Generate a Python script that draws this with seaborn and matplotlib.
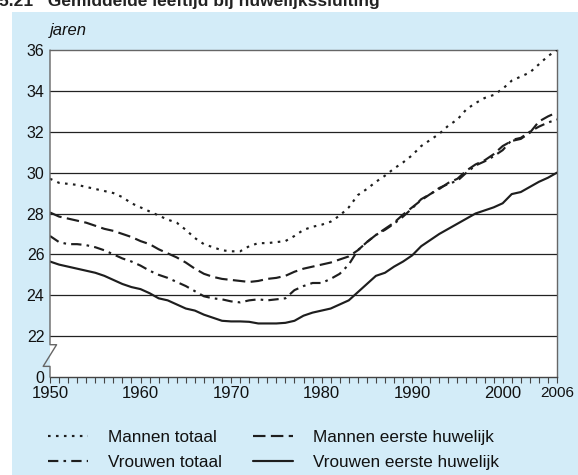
import numpy as np
import pandas as pd
import matplotlib
matplotlib.use("Agg")
import matplotlib.pyplot as plt
from matplotlib.patches import Rectangle
from matplotlib.lines import Line2D
import seaborn as sns

# ---------------- data ----------------
years = list(range(1950, 2007))

mannen_totaal = [29.7, 29.5, 29.45, 29.4, 29.3, 29.2, 29.1, 29.0, 28.8, 28.5,
                 28.3, 28.1, 27.9, 27.7, 27.55, 27.2, 26.8, 26.5, 26.35, 26.2,
                 26.15, 26.15, 26.4, 26.55, 26.55, 26.6, 26.65, 26.9, 27.2, 27.35,
                 27.45, 27.6, 27.9, 28.3, 28.9, 29.2, 29.55, 29.85, 30.2, 30.5,
                 30.85, 31.3, 31.6, 31.9, 32.3, 32.6, 33.1, 33.4, 33.65, 33.8,
                 34.1, 34.5, 34.7, 34.9, 35.3, 35.7, 36.0]

mannen_eerste = [28.05, 27.85, 27.75, 27.65, 27.55, 27.4, 27.25, 27.15, 27.0, 26.85,
                 26.65, 26.5, 26.25, 26.05, 25.85, 25.6, 25.3, 25.05, 24.9, 24.8,
                 24.75, 24.7, 24.65, 24.7, 24.8, 24.85, 24.95, 25.15, 25.3, 25.4,
                 25.5, 25.6, 25.75, 25.9, 26.2, 26.6, 26.95, 27.25, 27.55, 27.95,
                 28.3, 28.65, 28.95, 29.2, 29.5, 29.7, 30.1, 30.4, 30.6, 30.9,
                 31.3, 31.55, 31.65, 31.95, 32.5, 32.75, 32.95]

vrouwen_totaal = [26.9, 26.6, 26.5, 26.5, 26.45, 26.35, 26.2, 26.0, 25.8, 25.65,
                  25.45, 25.2, 25.0, 24.85, 24.65, 24.45, 24.2, 23.95, 23.85, 23.8,
                  23.7, 23.65, 23.75, 23.8, 23.75, 23.8, 23.85, 24.25, 24.45, 24.6,
                  24.6, 24.8, 25.05, 25.5, 26.2, 26.6, 26.95, 27.2, 27.5, 27.85,
                  28.25, 28.7, 28.95, 29.25, 29.45, 29.6, 30.0, 30.35, 30.55, 30.8,
                  31.1, 31.6, 31.7, 32.0, 32.25, 32.45, 32.6]

vrouwen_eerste = [25.65, 25.5, 25.4, 25.3, 25.2, 25.1, 24.95, 24.75, 24.55, 24.4,
                  24.3, 24.1, 23.85, 23.75, 23.55, 23.35, 23.25, 23.05, 22.9, 22.75,
                  22.72, 22.72, 22.7, 22.62, 22.62, 22.62, 22.65, 22.75, 23.0, 23.15,
                  23.25, 23.35, 23.55, 23.75, 24.15, 24.55, 24.95, 25.1, 25.4, 25.65,
                  25.95, 26.4, 26.7, 27.0, 27.25, 27.5, 27.75, 28.0, 28.15, 28.3,
                  28.5, 28.95, 29.05, 29.3, 29.55, 29.75, 30.0]

series_names = ["Mannen totaal", "Vrouwen totaal", "Mannen eerste huwelijk", "Vrouwen eerste huwelijk"]
y_ticks = [20, 22, 24, 26, 28, 30, 32, 34, 36]
y_tick_labels = ["0", "22", "24", "26", "28", "30", "32", "34", "36"]
x_ticks = [1950, 1960, 1970, 1980, 1990, 2000, 2006]
x_tick_labels = ["1950", "1960", "1970", "1980", "1990", "2000", "2006"]
title = "5.21   Gemiddelde leeftijd bij huwelijkssluiting"
unit_label = "jaren"

df = pd.DataFrame({
    "jaar": years * 4,
    "leeftijd": mannen_totaal + vrouwen_totaal + mannen_eerste + vrouwen_eerste,
    "reeks": [series_names[0]] * len(years) + [series_names[1]] * len(years)
             + [series_names[2]] * len(years) + [series_names[3]] * len(years),
})

# ---------------- style ----------------
sns.set_theme(style="white")
plt.rcParams["font.family"] = ["Liberation Sans", "DejaVu Sans"]

W, H = 578, 475
fig = plt.figure(figsize=(W / 100, H / 100), dpi=100, facecolor="white")
fig.patches.append(Rectangle((12 / W, 0), 1 - 12 / W, 1 - 12 / H,
                             transform=fig.transFigure, facecolor="#d3ecf8",
                             edgecolor="none", zorder=-10))

left, right, bottom, top = 50 / W, 557 / W, 1 - 377 / H, 1 - 50 / H
ax = fig.add_axes([left, bottom, right - left, top - bottom])
ax.set_zorder(1)
ax.set_facecolor("white")

line_color = "#1e1e1e"
dash_map = {
    series_names[0]: (1.2, 2.5),
    series_names[1]: (4.8, 2.4, 1.2, 2.4),
    series_names[2]: (5.8, 2.5),
    series_names[3]: "",
}
sns.lineplot(data=df, x="jaar", y="leeftijd", style="reeks", dashes=dash_map,
             color=line_color, linewidth=1.55, legend=False, ax=ax, zorder=3)

ax.set_xlim(1950, 2006)
ax.set_ylim(20, 36)
ax.set_xlabel("")
ax.set_ylabel("")

# horizontal grid lines
for yv in [22, 24, 26, 28, 30, 32, 34]:
    ax.axhline(yv, color="#222222", linewidth=0.9, zorder=1)

# ticks
ax.set_yticks(y_ticks)
ax.set_yticklabels(y_tick_labels, fontsize=11.5, color="#111111")
ax.tick_params(axis="y", length=0, pad=4)
ax.set_xticks(x_ticks)
ax.set_xticklabels(x_tick_labels, fontsize=12, color="#111111")
ax.set_xticks(years, minor=True)
ax.tick_params(axis="x", which="both", direction="out", length=4, width=0.8,
               color="#444444", pad=2.5, bottom=True)
lbls = ax.get_xticklabels()
lbls[-1].set_fontsize(11)

# spines
for s in ["top", "right", "bottom"]:
    ax.spines[s].set_visible(True)
    ax.spines[s].set_color("#666666")
    ax.spines[s].set_linewidth(1.0)
ax.spines["bottom"].set_color("#444444")
ax.spines["left"].set_visible(False)

# left spine with axis-break zigzag
tr = ax.get_yaxis_transform()
bx = [0, 0, 0.013, -0.0135, 0, 0]
by = [36, 21.58, 21.58, 20.52, 20.52, 20]
ax.add_line(Line2D(bx, by, transform=tr, color="#666666", linewidth=1.0,
                   clip_on=False, zorder=4))

# texts
fig.text(-1 / W, 1 - 6 / H, title, fontsize=12.5, fontweight="bold",
         va="baseline", ha="left", color="#222222")
fig.text(50 / W, 1 - 35 / H, unit_label, fontsize=12, style="italic",
         va="baseline", ha="left", color="#111111")

# legend
handles = [Line2D([], [], color=line_color, linewidth=1.55, dashes=dash_map[n])
           for n in series_names[:3]]
handles.append(Line2D([], [], color=line_color, linewidth=1.55, linestyle="-"))
leg = fig.legend(handles, series_names, ncol=2, loc="center left",
                 bbox_to_anchor=(48 / W, 1 - 450 / H), frameon=False,
                 fontsize=12.3, handlelength=2.34, handletextpad=1.17,
                 columnspacing=1.8, labelspacing=0.55, borderpad=0,
                 borderaxespad=0)
for t in leg.get_texts():
    t.set_color("#111111")

fig.savefig("out.png", dpi=100, facecolor="white")
